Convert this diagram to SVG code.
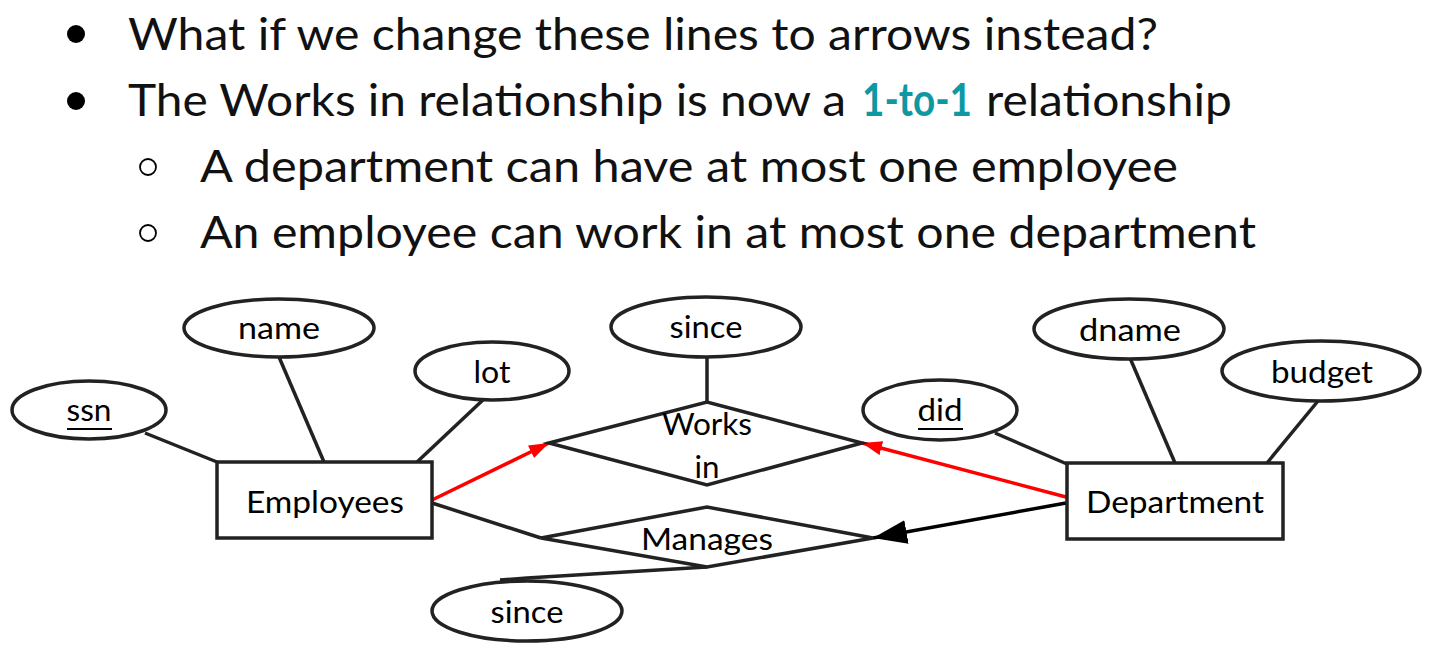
<svg xmlns="http://www.w3.org/2000/svg" width="1431" height="661" viewBox="0 0 1431 661">
<style>
.t{font-family:Lato,"Open Sans","Liberation Sans",sans-serif;font-size:45px;font-weight:400;fill:#111}
.d{font-family:Lato,"Liberation Sans",sans-serif;font-size:31px;fill:#000;text-anchor:middle}
.s{fill:#fff;stroke:#222;stroke-width:3.5}
.l{stroke:#222;stroke-width:3.5;fill:none}
.u{stroke:#000;stroke-width:2}
</style>
<defs>
<marker id="ar" markerUnits="userSpaceOnUse" markerWidth="22" markerHeight="16" refX="20" refY="7" orient="auto"><path d="M0,0 L20,7 L0,14 z" fill="#f00"/></marker>
<marker id="ab" markerUnits="userSpaceOnUse" markerWidth="36" markerHeight="28" refX="34" refY="12" orient="auto"><path d="M0,0 L34,12 L0,24 z" fill="#000"/></marker>
</defs>
<rect width="1431" height="661" fill="#fff"/>
<g id="bullets">
<circle cx="76" cy="34" r="9" fill="#000"/>
<text class="t" x="128" y="50" textLength="1030" lengthAdjust="spacingAndGlyphs">What if we change these lines to arrows instead?</text>
<circle cx="76" cy="101" r="9" fill="#000"/>
<text class="t" x="128" y="116" textLength="718" lengthAdjust="spacingAndGlyphs">The Works in relationship is now a</text>
<text class="t" x="862" y="116" textLength="110" lengthAdjust="spacingAndGlyphs" style="font-weight:bold;fill:#0e98a3">1-to-1</text>
<text class="t" x="986" y="116" textLength="246" lengthAdjust="spacingAndGlyphs">relationship</text>
<circle cx="148" cy="167" r="8" fill="none" stroke="#000" stroke-width="1.8"/>
<text class="t" x="200" y="182" textLength="978" lengthAdjust="spacingAndGlyphs">A department can have at most one employee</text>
<circle cx="148" cy="233" r="8" fill="none" stroke="#000" stroke-width="1.8"/>
<text class="t" x="200" y="248" textLength="1056" lengthAdjust="spacingAndGlyphs">An employee can work in at most one department</text>
</g>
<g id="connectors">
<line class="l" x1="145" y1="433" x2="217" y2="462"/>
<line class="l" x1="279" y1="357" x2="324" y2="462"/>
<line class="l" x1="484" y1="399" x2="417" y2="462"/>
<line class="l" x1="707" y1="357" x2="707" y2="402"/>
<line class="l" x1="432" y1="503" x2="541" y2="538"/>
<polyline class="l" points="707,567 527,578 500,580"/>
<line class="l" x1="995" y1="433" x2="1067" y2="464"/>
<line class="l" x1="1130" y1="358" x2="1175" y2="463"/>
<line class="l" x1="1318" y1="401" x2="1267" y2="463"/>
<line x1="432" y1="500" x2="549" y2="443" stroke="#f00" stroke-width="3.5" marker-end="url(#ar)"/>
<line x1="1066" y1="497" x2="862" y2="443" stroke="#f00" stroke-width="3.5" marker-end="url(#ar)"/>
<line x1="1066" y1="503" x2="873" y2="538" stroke="#000" stroke-width="3.5" marker-end="url(#ab)"/>
</g>
<g id="ssn"><ellipse class="s" cx="89" cy="410" rx="77" ry="29"/><text class="d" x="89" y="421" textLength="45" lengthAdjust="spacingAndGlyphs">ssn</text><line class="u" x1="67" y1="429" x2="112" y2="429"/></g>
<g id="name"><ellipse class="s" cx="279" cy="328" rx="95" ry="29"/><text class="d" x="279" y="339" textLength="82" lengthAdjust="spacingAndGlyphs">name</text></g>
<g id="lot"><ellipse class="s" cx="492" cy="371" rx="77" ry="29"/><text class="d" x="492" y="383" textLength="37" lengthAdjust="spacingAndGlyphs">lot</text></g>
<g id="employees"><rect class="s" x="217" y="462" width="215" height="76"/><text class="d" x="325" y="513" textLength="158" lengthAdjust="spacingAndGlyphs">Employees</text></g>
<g id="since1"><ellipse class="s" cx="706" cy="327" rx="95" ry="30"/><text class="d" x="706" y="338" textLength="73" lengthAdjust="spacingAndGlyphs">since</text></g>
<g id="worksin"><polygon class="s" points="549,443 707,402 862,443 707,485"/><text class="d" x="707" y="435" textLength="90" lengthAdjust="spacingAndGlyphs">Works</text><text class="d" x="707" y="478" textLength="25" lengthAdjust="spacingAndGlyphs">in</text></g>
<g id="manages"><polygon class="s" points="541,538 707,507 873,538 707,567"/><text class="d" x="707" y="550" textLength="132" lengthAdjust="spacingAndGlyphs">Manages</text></g>
<g id="since2"><ellipse class="s" cx="527" cy="611" rx="95" ry="30"/><text class="d" x="527" y="623" textLength="73" lengthAdjust="spacingAndGlyphs">since</text></g>
<g id="did"><ellipse class="s" cx="940" cy="410" rx="77" ry="30"/><text class="d" x="940" y="421" textLength="45" lengthAdjust="spacingAndGlyphs">did</text><line class="u" x1="918" y1="429" x2="963" y2="429"/></g>
<g id="dname"><ellipse class="s" cx="1129" cy="329" rx="95" ry="30"/><text class="d" x="1130" y="341" textLength="102" lengthAdjust="spacingAndGlyphs">dname</text></g>
<g id="budget"><ellipse class="s" cx="1321" cy="371" rx="99" ry="30"/><text class="d" x="1322" y="383" textLength="102" lengthAdjust="spacingAndGlyphs">budget</text></g>
<g id="department"><rect class="s" x="1067" y="463" width="216" height="76"/><text class="d" x="1175" y="513" textLength="178" lengthAdjust="spacingAndGlyphs">Department</text></g>
</svg>
